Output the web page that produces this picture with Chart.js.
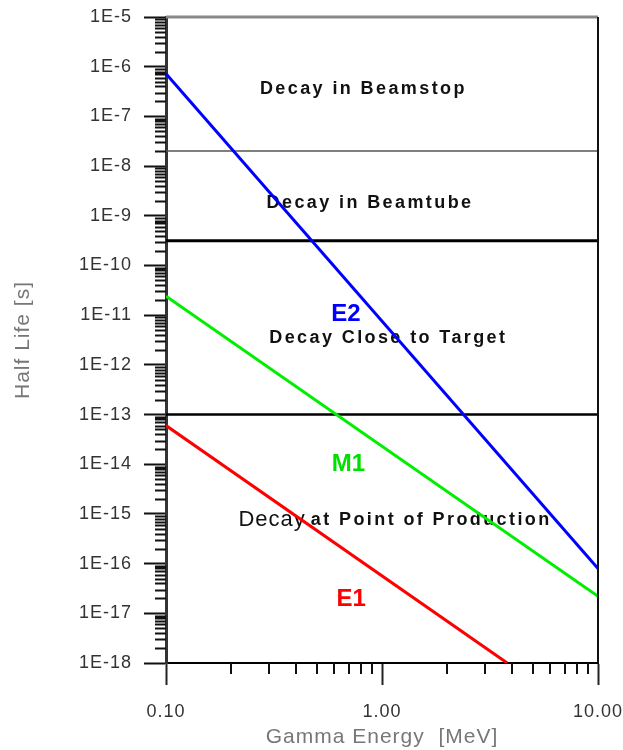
<!DOCTYPE html>
<html>
<head>
<meta charset="utf-8">
<script src="https://cdn.jsdelivr.net/npm/chart.js@4.4.0/dist/chart.umd.min.js"></script>
<style>
  html, body { margin: 0; padding: 0; background: #fff; }
  #wrap { width: 623px; height: 750px; }
</style>
</head>
<body>
<div id="wrap"><canvas id="myChart" width="623" height="750"></canvas></div>
<script>
// line end points: gamma energy [MeV] -> half life [s]
const e2Energy = [0.1, 10];
const e2HalfLife = [7.2e-7, 8e-17];
const m1Energy = [0.1, 10];
const m1HalfLife = [2.4e-11, 2.2e-17];
const e1Energy = [0.1, 3.8];
const e1HalfLife = [6e-14, 1e-18];

// horizontal region boundaries [s]
const boundaryHalfLife = [2e-8, 3.16e-10, 1e-13];
const boundaryEnergy = [0.1, 10];

// tick decades
const xDecades = [-1, 0, 1];
const yDecades = [-18, -17, -16, -15, -14, -13, -12, -11, -10, -9, -8, -7, -6, -5];
const mantissas = [1, 2, 3, 4, 5, 6, 7, 8, 9];

// text inside the plot, anchored in data units
const regionText = ["Decay in Beamstop", "Decay in Beamtube", "Decay Close to Target", "Decay", "at Point of Production", "E2", "M1", "E1"];
const regionEnergy = [0.82, 0.88, 1.07, 0.31, 1.69, 0.68, 0.70, 0.72];
const regionHalfLife = [3.6e-7, 1.8e-9, 3.5e-12, 7.6e-16, 7.6e-16, 1.05e-11, 1.0e-14, 1.9e-17];
const regionFont = ["bold 18px", "bold 18px", "bold 18px", "22px", "bold 18px", "bold 24px", "bold 24px", "bold 24px"];
const regionColor = ["#111", "#111", "#111", "#111", "#111", "#0000ff", "#00e000", "#ff0000"];
const regionSpacing = ["2.4px", "2.4px", "2.4px", "1px", "2.4px", "0px", "0px", "0px"];

const FONT = "'Liberation Sans', Arial, sans-serif";

function toPoints(xs, ys) {
  return xs.map((x, i) => ({ x: x, y: ys[i] }));
}

function logTicks(decades, maxValue) {
  const ticks = [];
  decades.forEach((d) => {
    mantissas.forEach((m) => {
      const v = parseFloat((m * Math.pow(10, d)).toPrecision(3));
      if (v <= maxValue * 1.0001) ticks.push({ value: v, major: m === 1 });
    });
  });
  return ticks;
}

const datasets = [
  { label: "E2", data: toPoints(e2Energy, e2HalfLife), borderColor: "#0000ff", borderWidth: 3 },
  { label: "M1", data: toPoints(m1Energy, m1HalfLife), borderColor: "#00ee00", borderWidth: 3 },
  { label: "E1", data: toPoints(e1Energy, e1HalfLife), borderColor: "#ff0000", borderWidth: 3 },
];
const boundaryStyle = [
  { color: "#555", width: 1.5 },
  { color: "#000", width: 3 },
  { color: "#000", width: 2.5 },
];
boundaryHalfLife.forEach((h, i) => {
  datasets.push({
    label: "boundary" + i,
    data: toPoints(boundaryEnergy, boundaryEnergy.map(() => h)),
    borderColor: boundaryStyle[i].color,
    borderWidth: boundaryStyle[i].width,
  });
});
datasets.forEach((d) => {
  d.showLine = true;
  d.pointRadius = 0;
  d.fill = false;
});

const decorPlugin = {
  id: "decor",
  beforeLayout(chart) {
    chart.ctx.letterSpacing = "1px";
  },
  beforeDraw(chart) {
    chart.ctx.letterSpacing = "1px";
  },
  beforeDatasetsDraw(chart) {
    const ctx = chart.ctx;
    const xs = chart.scales.x;
    const ys = chart.scales.y;
    regionText.forEach((t, i) => {
      ctx.save();
      ctx.letterSpacing = regionSpacing[i];
      ctx.font = regionFont[i] + " " + FONT;
      ctx.fillStyle = regionColor[i];
      ctx.textAlign = "center";
      ctx.textBaseline = "middle";
      ctx.fillText(t, xs.getPixelForValue(regionEnergy[i]), ys.getPixelForValue(regionHalfLife[i]));
      ctx.restore();
    });
  },
  afterDraw(chart) {
    const ctx = chart.ctx;
    const a = chart.chartArea;
    const xs = chart.scales.x;
    const ys = chart.scales.y;
    ctx.save();
    // minor ticks
    ctx.strokeStyle = "#111";
    ctx.lineWidth = 2;
    ctx.beginPath();
    xs.ticks.forEach((t) => {
      if (t.major) return;
      const px = Math.round(xs.getPixelForValue(t.value));
      ctx.moveTo(px, a.bottom);
      ctx.lineTo(px, a.bottom + 11);
    });
    ys.ticks.forEach((t) => {
      if (t.major) return;
      const py = Math.round(ys.getPixelForValue(t.value)) + 0.5;
      ctx.moveTo(a.left - 11, py);
      ctx.lineTo(a.left, py);
    });
    ctx.stroke();
    // frame top and right
    ctx.strokeStyle = "#888";
    ctx.lineWidth = 3;
    ctx.beginPath();
    ctx.moveTo(a.left, a.top);
    ctx.lineTo(a.right, a.top);
    ctx.stroke();
    ctx.strokeStyle = "#111";
    ctx.lineWidth = 2;
    ctx.beginPath();
    ctx.moveTo(a.right, a.top);
    ctx.lineTo(a.right, a.bottom);
    ctx.stroke();
    ctx.restore();
  },
};

const ctx = document.getElementById("myChart");

new Chart(ctx, {
  type: "scatter",
  data: { datasets: datasets },
  options: {
    responsive: false,
    animation: false,
    layout: { padding: { top: 17, right: 25, left: 0, bottom: 0 } },
    plugins: {
      legend: { display: false },
      tooltip: { enabled: false },
    },
    scales: {
      x: {
        type: "logarithmic",
        position: "bottom",
        min: 0.1,
        max: 10,
        afterBuildTicks: (scale) => {
          scale.ticks = logTicks(xDecades, 10);
        },
        afterFit: (scale) => {
          scale.height = 87;
          scale.paddingLeft = 0;
          scale.paddingRight = 0;
        },
        border: { display: true, color: "#000", width: 2 },
        grid: {
          display: true,
          drawOnChartArea: false,
          drawTicks: true,
          tickLength: 22,
          tickWidth: 2,
          tickColor: (c) => (c.tick && c.tick.major ? "#222" : "rgba(0,0,0,0)"),
        },
        ticks: {
          autoSkip: false,
          maxRotation: 0,
          padding: 16,
          color: "#333",
          font: { family: FONT, size: 18 },
          callback: (value, index, ticks) => (ticks[index].major ? value.toFixed(2) : ""),
        },
        title: {
          display: true,
          text: "Gamma Energy  [MeV]",
          color: "#777",
          font: { family: FONT, size: 21 },
          padding: { top: 0, bottom: 0 },
        },
      },
      y: {
        type: "logarithmic",
        position: "left",
        min: 1e-18,
        max: 1e-5,
        afterBuildTicks: (scale) => {
          scale.ticks = logTicks(yDecades, 1e-5);
        },
        afterFit: (scale) => {
          scale.width = 166;
          scale.paddingTop = 0;
          scale.paddingBottom = 0;
        },
        border: { display: true, color: "#333", width: 3 },
        grid: {
          display: true,
          drawOnChartArea: false,
          drawTicks: true,
          tickLength: 22,
          tickWidth: 2,
          tickColor: (c) => (c.tick && c.tick.major ? "#111" : "rgba(0,0,0,0)"),
        },
        ticks: {
          autoSkip: false,
          padding: 12,
          color: "#333",
          font: { family: FONT, size: 18 },
          callback: (value, index, ticks) =>
            ticks[index].major ? "1E" + Math.round(Math.log10(value)) : "",
        },
        title: {
          display: true,
          text: "Half Life [s]",
          color: "#777",
          font: { family: FONT, size: 21 },
          padding: { top: 11, bottom: 0 },
        },
      },
    },
  },
  plugins: [decorPlugin],
});
</script>
</body>
</html>
